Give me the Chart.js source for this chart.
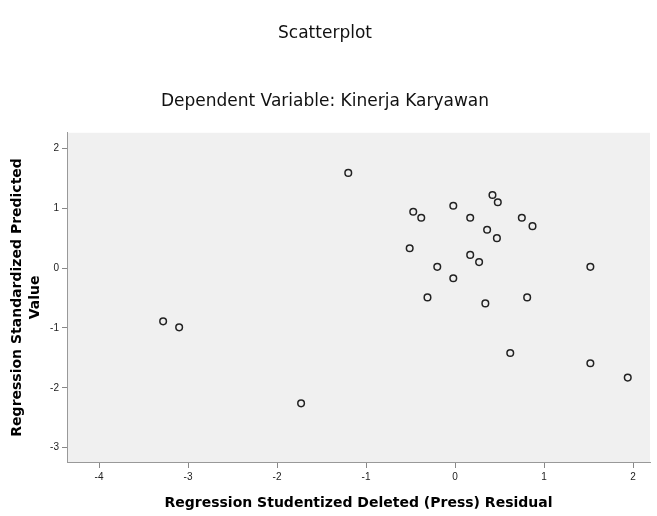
<!DOCTYPE html>
<html><head><meta charset="utf-8">
<script src="https://cdn.jsdelivr.net/npm/chart.js@4.4.0/dist/chart.umd.min.js"></script>
<style>html,body{margin:0;padding:0;background:#fff}</style>
</head><body>
<canvas id="c" width="657" height="516"></canvas>
<script>
const residuals = [-1.20,-3.28,-3.10,-1.73,-0.51,-0.47,-0.38,-0.02,0.17,0.42,0.48,0.75,0.87,0.36,0.47,0.17,0.27,-0.20,-0.02,-0.31,0.34,0.81,1.52,0.62,1.52,1.94];
const predicted = [1.59,-0.89,-0.99,-2.26,0.33,0.94,0.84,1.04,0.84,1.22,1.10,0.84,0.70,0.64,0.50,0.22,0.10,0.02,-0.17,-0.49,-0.59,-0.49,0.02,-1.42,-1.59,-1.83];
const xTicks = [-4,-3,-2,-1,0,1,2];
const yTicks = [2,1,0,-1,-2,-3];
const points = residuals.map((x,i)=>({x:x,y:predicted[i]}));

const bgPlugin = {
  id:'bg',
  beforeDraw(chart){
    const a = chart.chartArea, ctx = chart.ctx;
    ctx.save(); ctx.fillStyle='#f0f0f0';
    ctx.fillRect(a.left,a.top,a.right-a.left,a.bottom-a.top);
    ctx.restore();
  }
};

new Chart(document.getElementById('c'),{
  type:'scatter',
  data:{datasets:[{data:points,pointStyle:'circle',pointRadius:3.3,pointBorderWidth:1.5,
    pointBorderColor:'#222',pointBackgroundColor:'rgba(0,0,0,0)'}]},
  plugins:[bgPlugin],
  options:{
    responsive:false, animation:false,
    layout:{padding:{left:0,right:7,top:0,bottom:0}},
    plugins:{
      legend:{display:false}, tooltip:{enabled:false},
      title:{display:true,text:'Scatterplot',color:'#111',
        font:{family:'DejaVu Sans',size:17,weight:'normal'},padding:{top:23,bottom:0}},
      subtitle:{display:true,text:'Dependent Variable: Kinerja Karyawan',color:'#111',
        font:{family:'DejaVu Sans',size:17,weight:'normal'},padding:{top:47.5,bottom:21.5}}
    },
    scales:{
      x:{type:'linear',min:-4.36,max:2.19,
        afterBuildTicks(s){s.ticks=xTicks.map(v=>({value:v}));},
        afterFit(s){s.height=54;},
        grid:{drawOnChartArea:false,drawTicks:true,tickLength:6,color:'#888'},
        border:{display:true,color:'#999',width:1},
        ticks:{color:'#222',font:{family:'Liberation Sans',size:10},padding:3,maxRotation:0},
        title:{display:true,text:'Regression Studentized Deleted (Press) Residual',color:'#000',
          font:{family:'DejaVu Sans',size:14,weight:'bold'},padding:{top:0,bottom:4}}
      },
      y:{type:'linear',min:-3.24,max:2.26,
        afterBuildTicks(s){s.ticks=yTicks.map(v=>({value:v}));},
        afterFit(s){s.width=67;},
        grid:{drawOnChartArea:false,drawTicks:true,tickLength:5,color:'#888'},
        border:{display:true,color:'#999',width:1},
        ticks:{color:'#222',font:{family:'Liberation Sans',size:10},padding:3},
        title:{display:true,text:['Regression Standardized Predicted','Value'],color:'#000',
          font:{family:'DejaVu Sans',size:14,weight:'bold',lineHeight:1.3},padding:{top:8,bottom:0}}
      }
    }
  }
});
</script>
</body></html>
